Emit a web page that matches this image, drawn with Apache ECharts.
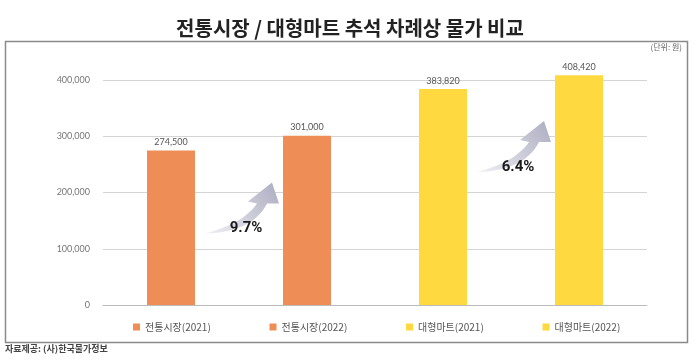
<!DOCTYPE html>
<html><head><meta charset="utf-8">
<script src="https://cdn.jsdelivr.net/npm/echarts@6/dist/echarts.min.js"></script>
<style>html,body{margin:0;padding:0;background:#fff}#c{width:700px;height:360px}</style>
</head><body><div id="c"></div>
<script>
const titleText = '전통시장 / 대형마트 추석 차례상 물가 비교';
const unitText = '(단위: 원)';
const sourceText = '자료제공: (사)한국물가정보';
const categories = ['전통시장(2021)', '전통시장(2022)', '대형마트(2021)', '대형마트(2022)'];
const values = [274500, 301000, 383820, 408420];
const barColors = ['#EE8E56', '#EE8E56', '#FFD93F', '#FFD93F'];
const yTicks = [0, 100000, 200000, 300000, 400000];
const growthPairs = [[0, 1], [2, 3]];
const growthLabels = ['9.7%', '6.4%'];

const KFONT = '"Noto Sans CJK KR", "Noto Sans", sans-serif';
const chart = echarts.init(document.getElementById('c'));

function fmt(v){ return v.toLocaleString('en-US'); }

// swoosh arrow polygon in local coords (tail at 0,0)
function quad(p0, c, p1, n){
  const pts = [];
  for (let i = 0; i <= n; i++){
    const t = i / n, u = 1 - t;
    pts.push([u*u*p0[0] + 2*u*t*c[0] + t*t*p1[0], u*u*p0[1] + 2*u*t*c[1] + t*t*p1[1]]);
  }
  return pts;
}
function arrowPoints(ox, oy){
  let pts = quad([0,0],[48,-1],[63,-30],16);
  pts.push([75,-30],[68,-51],[44,-32],[53,-30]);
  pts = pts.concat(quad([53,-30],[38,-9],[0,0],16).slice(1));
  return pts.map(p => [p[0] + ox, p[1] + oy]);
}

const barSeries = categories.map((name, i) => ({
  name: name,
  type: 'bar',
  barWidth: 48,
  barGap: '-100%',
  clip: false,
  itemStyle: { color: barColors[i] },
  label: { show: true, position: 'top', distance: 4, fontSize: 9, color: '#555', fontFamily: 'Lato, sans-serif', formatter: p => fmt(p.value) },
  data: categories.map((c, j) => j === i ? values[i] : null)
}));

const arrowSeries = {
  type: 'custom',
  silent: true,
  clip: false,
  z: 5,
  encode: { x: 0, y: 1 },
  data: growthPairs.map((p, k) => [p[0], values[p[0]], p[1], values[p[1]], k]),
  renderItem: function(params, api){
    const a = api.coord([api.value(0), api.value(1)]);
    const b = api.coord([api.value(2), api.value(3)]);
    const k = api.value(4);
    const tx = a[0] + 33, ty = a[1] + 83;
    return {
      type: 'group',
      children: [
        { type: 'polygon', shape: { points: arrowPoints(tx, ty) },
          style: { fill: new echarts.graphic.LinearGradient(0, 1, 1, 0, [
            { offset: 0, color: 'rgba(238,238,244,0.9)' },
            { offset: 0.6, color: '#c8c8d6' },
            { offset: 1, color: '#adadc2' }]) } },
        { type: 'text', x: (a[0] + b[0]) / 2 + 7, y: ty - 5,
          style: { text: growthLabels[k], fontSize: 15, fontWeight: 'bold', fill: '#1a1a1a', align: 'center', verticalAlign: 'middle', fontFamily: 'Roboto, sans-serif' } }
      ]
    };
  }
};

const legends = categories.map((name, i) => ({
  data: [name],
  left: 128 + i * 136.5,
  top: 317,
  icon: 'rect',
  itemWidth: 7,
  itemHeight: 7,
  itemGap: 5,
  selectedMode: false,
  textStyle: { fontSize: 10, color: '#555', fontFamily: KFONT }
}));

chart.setOption({
  animation: false,
  title: { text: titleText, left: 'center', top: 13,
    textStyle: { fontSize: 20, fontWeight: 'bold', color: '#222', fontFamily: KFONT } },
  legend: legends,
  grid: { left: 103, right: 53, top: 80, bottom: 55 },
  xAxis: { type: 'category', data: categories,
    axisLine: { lineStyle: { color: '#bbb' } }, axisTick: { show: false }, axisLabel: { show: false } },
  yAxis: { type: 'value', min: yTicks[0], max: yTicks[yTicks.length - 1], interval: yTicks[1] - yTicks[0],
    axisLine: { show: false }, axisTick: { show: false },
    axisLabel: { fontSize: 9, color: '#777', margin: 13, fontFamily: 'Lato, sans-serif', formatter: v => fmt(v) },
    splitLine: { lineStyle: { color: '#d4d4d4' } } },
  graphic: [
    { type: 'rect', shape: { x: 5.5, y: 41.5, width: 682, height: 301 }, style: { fill: 'none', stroke: '#8a8a8a', lineWidth: 1.5 }, z: -1 },
    { type: 'text', right: 18, top: 43, style: { text: unitText, fontSize: 8, fill: '#666', fontFamily: KFONT } },
    { type: 'text', left: 5, top: 344, style: { text: sourceText, fontSize: 9, fontWeight: 'bold', fill: '#444', fontFamily: KFONT } }
  ],
  series: barSeries.concat([arrowSeries])
});
</script>
</body></html>
